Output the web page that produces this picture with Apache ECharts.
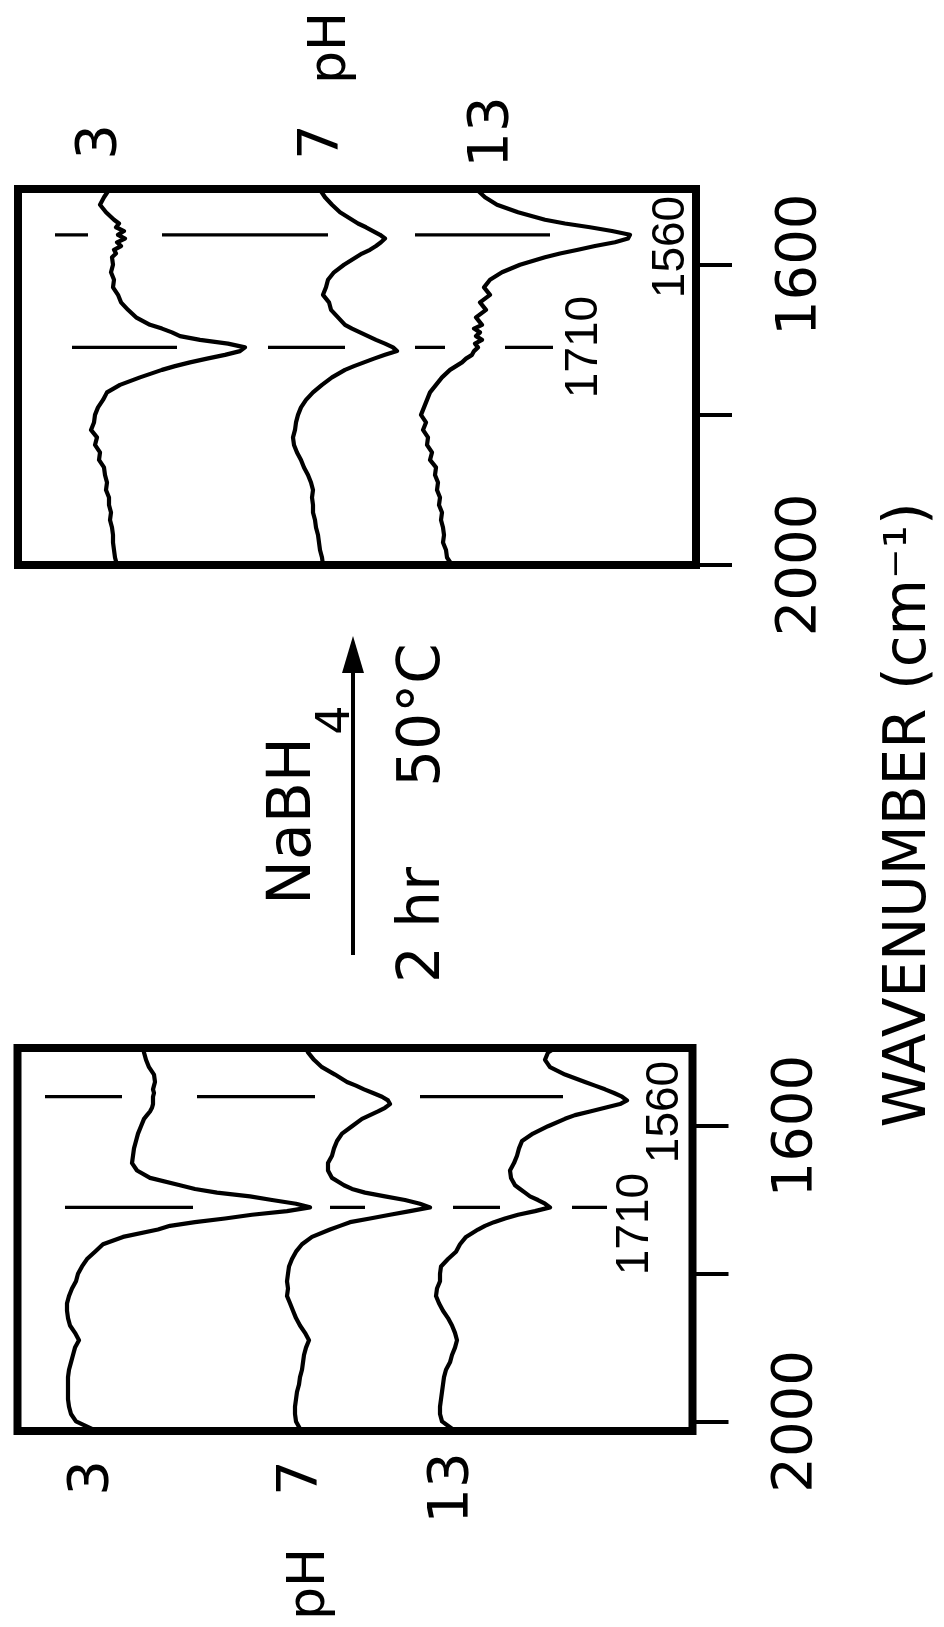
<!DOCTYPE html>
<html>
<head>
<meta charset="utf-8">
<script src="https://cdn.jsdelivr.net/npm/echarts@6/dist/echarts.min.js"></script>
<style>
html,body{margin:0;padding:0;background:#fff;}
#chart{width:944px;height:1627px;}
</style>
</head>
<body>
<div id="chart"></div>
<script>
// Wavenumber sampling (cm^-1), shared by all spectra
const wavenumbers = [1490,1500,1510,1520,1530,
  1540,1545,1550,1555,1560,1565,1570,1575,1580,1585,1590,
  1600,1610,1620,1630,1640,1650,1660,1670,
  1680,1685,1690,1695,1700,1705,1710,1715,1720,1725,1730,1735,1740,
  1750,1760,1770,1780,1790,1800,1810,1820,1830,1840,1850,1860,1870,1880,1890,1900,
  1910,1920,1930,1940,1950,1960,1970,1980,1990,2000,2010];

// After NaBH4 treatment (top panel), offset intensity (a.u.)
const afterPH3 = [11.0,10.9,10.4,10.0,10.6,
  11.4,11.9,11.6,12.4,11.8,12.5,11.7,12.1,11.4,11.6,11.2,
  11.3,11.1,11.4,11.3,11.8,12.1,12.8,13.6,
  15.0,16.2,17.2,18.0,20.0,22.8,24.5,24.0,22.5,20.7,19.0,17.5,16.2,
  14.0,12.0,10.7,10.3,9.8,9.5,9.4,9.1,9.7,9.5,10.0,9.9,10.4,10.5,10.7,10.6,
  10.9,10.9,11.1,11.0,11.2,11.3,11.3,11.4,11.5,11.7,11.8];
const afterPH7 = [32.0,32.0,32.5,33.2,34.0,
  35.2,35.8,36.6,37.3,38.0,38.5,38.1,37.6,37.0,36.2,35.6,
  34.4,33.4,32.8,32.6,32.3,32.9,33.1,33.8,
  34.5,35.2,36.0,36.8,37.6,38.5,39.3,39.7,38.5,37.4,36.4,35.4,34.5,
  33.2,32.2,31.3,30.6,30.1,29.8,29.6,29.5,29.3,29.4,29.7,30.1,30.4,30.8,31.1,31.3,
  31.2,31.3,31.3,31.5,31.6,31.8,31.9,32.0,32.2,32.3,32.4];
const afterPH13 = [47.0,47.7,48.5,49.7,51.8,
  54.5,56.5,59.0,61.2,63.0,62.8,61.5,59.5,57.8,56.0,54.5,
  52.0,50.2,49.0,48.4,49.0,48.0,48.6,47.6,
  48.2,47.4,48.0,47.6,48.2,47.5,47.8,47.4,47.2,46.6,46.2,45.6,45.0,
  44.2,43.6,43.0,42.7,42.4,42.1,42.6,42.3,42.8,42.7,43.2,43.0,43.6,43.5,43.8,43.7,
  44.0,43.9,44.2,44.1,44.3,44.4,44.3,44.6,44.7,45.2,46.0];

// Before treatment (bottom panel)
const beforePH3 = [14.3,14.4,14.6,14.9,15.4,
  15.5,15.4,15.3,15.4,15.3,15.3,15.3,15.2,15.0,14.7,14.4,
  14.1,13.8,13.6,13.4,13.3,13.2,13.7,15.0,
  18.0,19.5,21.7,25.0,27.2,29.6,31.0,28.7,25.2,22.5,19.5,17.0,15.8,
  12.3,10.3,9.5,8.7,8.2,7.8,7.6,7.2,6.9,6.7,6.7,6.8,7.0,7.5,7.9,7.5,
  7.3,7.1,6.9,6.8,6.8,6.8,6.8,6.9,7.1,7.6,9.2];
const beforePH7 = [30.5,30.8,31.4,32.2,33.5,
  34.7,35.6,36.4,37.3,38.2,38.8,39.0,38.5,37.8,37.0,36.2,
  35.2,34.2,33.7,33.4,33.2,32.8,32.8,33.2,
  34.4,35.2,36.5,38.5,40.5,42.0,43.0,41.0,39.0,37.0,35.0,34.0,33.0,
  31.2,30.2,29.6,29.2,28.9,28.8,28.7,28.8,28.7,29.0,29.3,29.6,30.0,30.5,30.9,30.6,
  30.4,30.3,30.2,30.0,29.9,29.7,29.6,29.5,29.5,29.6,30.0];
const beforePH13 = [56.0,54.8,54.5,55.0,56.5,
  58.5,59.5,60.5,61.4,62.2,62.7,62.0,60.5,59.0,57.5,56.5,
  54.8,53.3,52.2,51.9,51.7,51.4,51.0,51.1,
  51.5,52.0,52.5,53.0,53.8,54.5,55.0,53.5,51.8,50.5,49.4,48.5,47.8,
  46.6,46.0,45.6,44.8,44.1,44.0,44.0,43.7,43.6,43.9,44.3,44.8,45.2,45.5,45.7,45.5,
  45.2,45.0,44.6,44.4,44.3,44.2,44.1,44.0,44.0,44.2,45.2];

// Band reference lines: [from, to] segments in intensity units
const afterDash1560 = [[5.5,8.8],[16.2,32.8],[41.5,55.0]];
const afterDash1710 = [[7.2,17.7],[26.8,34.5],[41.5,44.5],[50.5,55.3]];
const beforeDash1560 = [[4.5,12.2],[19.7,31.5],[42.0,56.3]];
const beforeDash1710 = [[6.5,19.3],[33.0,36.5],[45.3,50.0],[57.2,60.7]];

const tickValues = [1600,1800,2000];
const tickLabels = [1600,2000];

const chart = echarts.init(document.getElementById('chart'), null, {renderer:'canvas'});
const FONT = '"DejaVu Sans", sans-serif';

function spectrum(vals, g){
  return {type:'line', xAxisIndex:g, yAxisIndex:g, showSymbol:false, silent:true,
    data: wavenumbers.map((w,i)=>[vals[i], w]),
    lineStyle:{color:'#000', width:4.2, join:'round', cap:'round'}, z:3};
}
function dashes(segs, w, g){
  return segs.map(s=>({type:'line', xAxisIndex:g, yAxisIndex:g, showSymbol:false, silent:true,
    data:[[s[0], w],[s[1], w]], lineStyle:{color:'#000', width:3.2}, z:2}));
}
function yAx(g, min, max){
  return {gridIndex:g, type:'value', min:min, max:max, inverse:true, position:'right',
    axisLine:{show:false}, splitLine:{show:false},
    axisTick:{show:true, inside:false, length:36, customValues:tickValues, lineStyle:{color:'#000', width:4}},
    axisLabel:{show:true, customValues:tickLabels, rotate:90, margin:76, fontSize:56,
      fontFamily:FONT, color:'#000', formatter:(v)=>String(v)}};
}
function txt(t, x, y, size, fam){
  return {type:'text', x:x, y:y, rotation:Math.PI/2, z:10,
    style:{text:t, fontSize:size, fontFamily:fam||FONT, fill:'#000',
      textAlign:'center', textVerticalAlign:'middle', align:'center', verticalAlign:'middle'}};
}

const series = [
  spectrum(afterPH3,0), spectrum(afterPH7,0), spectrum(afterPH13,0),
  spectrum(beforePH3,1), spectrum(beforePH7,1), spectrum(beforePH13,1),
  ...dashes(afterDash1560,1560,0), ...dashes(afterDash1710,1710,0),
  ...dashes(beforeDash1560,1560,1), ...dashes(beforeDash1710,1710,1)
];

const NUMF = '"Liberation Sans", sans-serif';
const option = {
  animation:false,
  backgroundColor:'#fff',
  grid:[
    {left:18, top:189, width:678, height:376, show:true, borderColor:'#000', borderWidth:8, backgroundColor:'transparent'},
    {left:17.5, top:1048, width:675, height:383, show:true, borderColor:'#000', borderWidth:8, backgroundColor:'transparent'}
  ],
  xAxis:[
    {gridIndex:0, type:'value', min:1.8, max:69.6, show:false},
    {gridIndex:1, type:'value', min:1.75, max:69.25, show:false}
  ],
  yAxis:[ yAx(0,1499,2000), yAx(1,1494,2013) ],
  series: series,
  graphic:[
    txt('3',100,142,56), txt('7',322,142,56), txt('13',492,132,56), txt('pH',331,48,52),
    txt('3',92,1478,56), txt('7',301,1478,56), txt('13',452,1488,56), txt('pH',310,1584,52),
    txt('1710',584,347,46,NUMF), txt('1560',671,247,46,NUMF),
    txt('1710',635,1224,46,NUMF), txt('1560',665,1112,46,NUMF),
    txt('NaBH',294,821,60), txt('4',337,720,46),
    txt('2 hr',424,925,58), txt('50°C',424,715,58),
    txt('WAVENUMBER (cm⁻¹)',910,815,58),
    {type:'line', shape:{x1:353,y1:955,x2:353,y2:668}, style:{stroke:'#000', lineWidth:4}},
    {type:'polygon', shape:{points:[[353,636],[342,673],[364,673]]}, style:{fill:'#000'}}
  ]
};
chart.setOption(option);
</script>
</body>
</html>
